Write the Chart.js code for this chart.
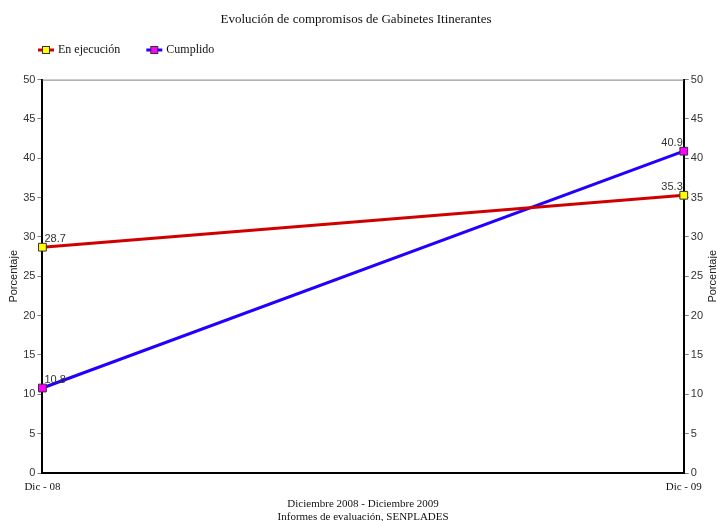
<!DOCTYPE html>
<html>
<head>
<meta charset="utf-8">
<script src="https://cdn.jsdelivr.net/npm/chart.js@4.4.0/dist/chart.umd.min.js"></script>
<style>
  html, body { margin: 0; padding: 0; background: #fff; }
  #wrap { width: 717px; height: 521px; }
</style>
</head>
<body>
<div id="wrap"><canvas id="myLineChart" width="717" height="521"></canvas></div>
<script>
var categories = ['Dic - 08', 'Dic - 09'];
var enEjecucion = [28.7, 35.3];
var cumplido = [10.8, 40.9];
var seriesNames = ['En ejecución', 'Cumplido'];
var xTitle = ['Diciembre 2008 - Diciembre 2009', 'Informes de evaluación, SENPLADES'];

var SERIF = '"Liberation Serif", "Times New Roman", serif';
var SANS = '"Liberation Sans", Arial, sans-serif';

// value labels, top border, right axis title and the legend
var extras = {
  id: 'extras',
  afterDraw: function(chart) {
    var ctx = chart.ctx;
    var area = chart.chartArea;
    ctx.save();
    ctx.strokeStyle = '#808080';
    ctx.lineWidth = 1;
    ctx.beginPath();
    ctx.moveTo(area.left, area.top + 0.5);
    ctx.lineTo(area.right, area.top + 0.5);
    ctx.stroke();

    ctx.font = '11px ' + SANS;
    ctx.fillStyle = '#333';
    ctx.textBaseline = 'bottom';
    chart.data.datasets.forEach(function(ds, i) {
      chart.getDatasetMeta(i).data.forEach(function(pt, j) {
        var txt = ds.data[j].toFixed(1);
        if (j === 0) {
          ctx.textAlign = 'left';
          ctx.fillText(txt, pt.x + 2, pt.y - 3);
        } else {
          ctx.textAlign = 'right';
          ctx.fillText(txt, pt.x - 1, pt.y - 3);
        }
      });
    });

    // right axis title, reading upwards
    ctx.save();
    ctx.translate(713, (area.top + area.bottom) / 2);
    ctx.rotate(-Math.PI / 2);
    ctx.textAlign = 'center';
    ctx.textBaseline = 'middle';
    ctx.font = '11px ' + SANS;
    ctx.fillStyle = '#222';
    ctx.fillText('Porcentaje', 0, 0);
    ctx.restore();

    // legend
    var x = 38, y = 50;
    ctx.font = '12px ' + SERIF;
    ctx.textAlign = 'left';
    ctx.textBaseline = 'middle';
    chart.data.datasets.forEach(function(ds) {
      ctx.strokeStyle = ds.borderColor;
      ctx.lineWidth = 3;
      ctx.beginPath();
      ctx.moveTo(x, y);
      ctx.lineTo(x + 16, y);
      ctx.stroke();
      ctx.fillStyle = ds.pointBackgroundColor;
      ctx.strokeStyle = '#333';
      ctx.lineWidth = 1;
      ctx.fillRect(x + 4.5, y - 3.5, 7, 7);
      ctx.strokeRect(x + 4.5, y - 3.5, 7, 7);
      ctx.fillStyle = '#111';
      ctx.fillText(ds.label, x + 20, y);
      x += 20 + ctx.measureText(ds.label).width + 26;
    });
    ctx.restore();
  }
};

var ctx = document.getElementById('myLineChart').getContext('2d');
var chart = new Chart(ctx, {
  type: 'line',
  data: {
    labels: categories,
    datasets: [{
      label: seriesNames[0],
      data: enEjecucion,
      borderColor: '#d00000',
      borderWidth: 3,
      pointStyle: 'rect',
      pointRadius: 5.5,
      pointBackgroundColor: '#ffff00',
      pointBorderColor: '#333',
      pointBorderWidth: 1,
      yAxisID: 'y'
    }, {
      label: seriesNames[1],
      data: cumplido,
      borderColor: '#2200ff',
      borderWidth: 3,
      pointStyle: 'rect',
      pointRadius: 5.5,
      pointBackgroundColor: '#ff00ff',
      pointBorderColor: '#333',
      pointBorderWidth: 1,
      yAxisID: 'y'
    }]
  },
  options: {
    responsive: false,
    animation: false,
    layout: { padding: { left: 7, right: 12, top: 0, bottom: -3 } },
    plugins: {
      legend: { display: false },
      tooltip: { enabled: false },
      title: {
        display: true,
        text: 'Evolución de compromisos de Gabinetes Itinerantes',
        color: '#111',
        font: { family: SERIF, size: 13, weight: 'normal' },
        padding: { top: 12, bottom: 52 }
      }
    },
    scales: {
      x: {
        offset: false,
        grid: { display: false },
        border: { color: '#000', width: 2 },
        ticks: { color: '#111', font: { family: SERIF, size: 11 }, padding: 0, maxRotation: 0 },
        title: {
          display: true,
          text: xTitle,
          color: '#111',
          font: { family: SERIF, size: 11, lineHeight: 1.2 },
          padding: { top: 2, bottom: 0 }
        },
        afterFit: function(scale) { scale.height = 51; }
      },
      y: {
        position: 'left',
        min: 0, max: 50,
        grid: { drawOnChartArea: false, color: '#808080', tickLength: 5 },
        border: { color: '#000', width: 2 },
        ticks: { stepSize: 5, color: '#333', font: { family: SANS, size: 11 }, padding: 2 },
        title: {
          display: true,
          text: 'Porcentaje',
          color: '#222',
          font: { family: SANS, size: 11 },
          padding: { top: 0, bottom: 1 }
        }
      },
      y2: {
        position: 'right',
        min: 0, max: 50,
        grid: { drawOnChartArea: false, color: '#808080', tickLength: 5 },
        border: { color: '#000', width: 2 },
        ticks: { stepSize: 5, color: '#333', font: { family: SANS, size: 11 }, padding: 2 }
      }
    }
  },
  plugins: [extras]
});
</script>
</body>
</html>
